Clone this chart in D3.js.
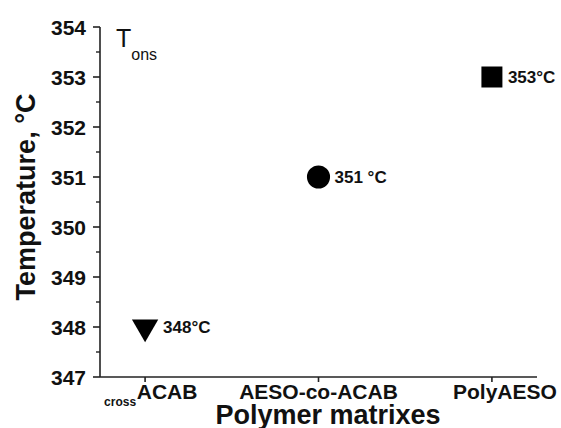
<!DOCTYPE html>
<html><head><meta charset="utf-8">
<script src="https://cdn.jsdelivr.net/npm/d3@7"></script>
<style>
body{margin:0;background:#fff;}
svg text{font-family:"Liberation Sans",Arial,sans-serif;fill:#111;}
</style></head><body>
<script>
const categories = ["ACAB", "AESO-co-ACAB", "PolyAESO"];
const categoryPrefix = ["cross", "", ""];
const values = [348, 351, 353];
const valueLabels = ["348°C", "351 °C", "353°C"];
const shapes = ["triangle-down", "circle", "square"];
const yTicks = [347, 348, 349, 350, 351, 352, 353, 354];

const W = 561, H = 428;
const svg = d3.select("body").append("svg").attr("width", W).attr("height", H);

const x = d3.scaleLinear().domain([0.74, 3.26]).range([100, 537]);
const y = d3.scaleLinear().domain([347, 354]).range([377, 27]);
const axisColor = "#222";

// y axis
const gy = svg.append("g").attr("transform", "translate(100,0)");
gy.append("line").attr("x1",0).attr("x2",0).attr("y1",y(354)).attr("y2",y(347)).attr("stroke",axisColor).attr("stroke-width",1.6);
gy.selectAll(".maj").data(yTicks).join("line").attr("class","maj")
  .attr("x1",-7).attr("x2",0).attr("y1",d=>y(d)).attr("y2",d=>y(d)).attr("stroke",axisColor).attr("stroke-width",1.6);
gy.selectAll(".min").data(yTicks.slice(0,-1).map(d=>d+0.5)).join("line").attr("class","min")
  .attr("x1",-4).attr("x2",0).attr("y1",d=>y(d)).attr("y2",d=>y(d)).attr("stroke",axisColor).attr("stroke-width",1.4);
gy.selectAll(".tl").data(yTicks).join("text").attr("class","tl")
  .attr("x",-14).attr("y",d=>y(d)).attr("dy","0.36em").attr("text-anchor","end")
  .attr("font-size",21).attr("font-weight","bold").text(d=>d);

// x axis
const gx = svg.append("g").attr("transform", `translate(0,${y(347)})`);
gx.append("line").attr("x1",100).attr("x2",537).attr("y1",0).attr("y2",0).attr("stroke",axisColor).attr("stroke-width",1.6);
gx.selectAll(".t").data(categories).join("line").attr("class","t")
  .attr("x1",(d,i)=>x(i+1)).attr("x2",(d,i)=>x(i+1)).attr("y1",0).attr("y2",5).attr("stroke",axisColor).attr("stroke-width",1.6);
gx.selectAll(".lab").data(categories).join("text").attr("class","lab")
  .attr("x",(d,i)=>x(i+1)).attr("dx",(d,i)=> i===0 ? 22 : (i===2 ? 13 : 0))
  .attr("y",22).attr("text-anchor","middle")
  .attr("font-size",21).attr("font-weight","bold").text(d=>d);
// subscript prefix
gx.selectAll(".pre").data(categoryPrefix).join("text").attr("class","pre")
  .attr("x",(d,i)=>x(i+1)-9).attr("y",29).attr("text-anchor","end")
  .attr("font-size",12).attr("font-weight","bold").text(d=>d);

// axis titles
svg.append("text").attr("x",328).attr("y",424).attr("text-anchor","middle")
  .attr("font-size",27).attr("font-weight","bold").text("Polymer matrixes");
svg.append("text").attr("transform","translate(35,197) rotate(-90)").attr("text-anchor","middle")
  .attr("font-size",27).attr("font-weight","bold").text("Temperature, °C");

// T_ons annotation
const t = svg.append("text").attr("x",116).attr("y",47).attr("font-size",25);
t.append("tspan").text("T");
t.append("tspan").attr("font-size",16).attr("dy",13).text("ons");

// markers
const symMap = {"triangle-down": d3.symbolTriangle, "circle": d3.symbolCircle, "square": d3.symbolSquare};
const sizes = {"triangle-down": 300, "circle": 420, "square": 441};
svg.selectAll(".pt").data(values).join("path").attr("class","pt")
  .attr("d",(d,i)=>d3.symbol().type(symMap[shapes[i]]).size(sizes[shapes[i]])())
  .attr("transform",(d,i)=>`translate(${x(i+1)},${y(d)})` + (shapes[i]==="triangle-down" ? " rotate(180)" : ""))
  .attr("fill","#000");
svg.selectAll(".vl").data(values).join("text").attr("class","vl")
  .attr("x",(d,i)=>x(i+1)+(i===0 ? 18 : 16)).attr("y",d=>y(d)).attr("dy","0.36em")
  .attr("font-size",17).attr("font-weight","bold").text((d,i)=>valueLabels[i]);
</script>
</body></html>
